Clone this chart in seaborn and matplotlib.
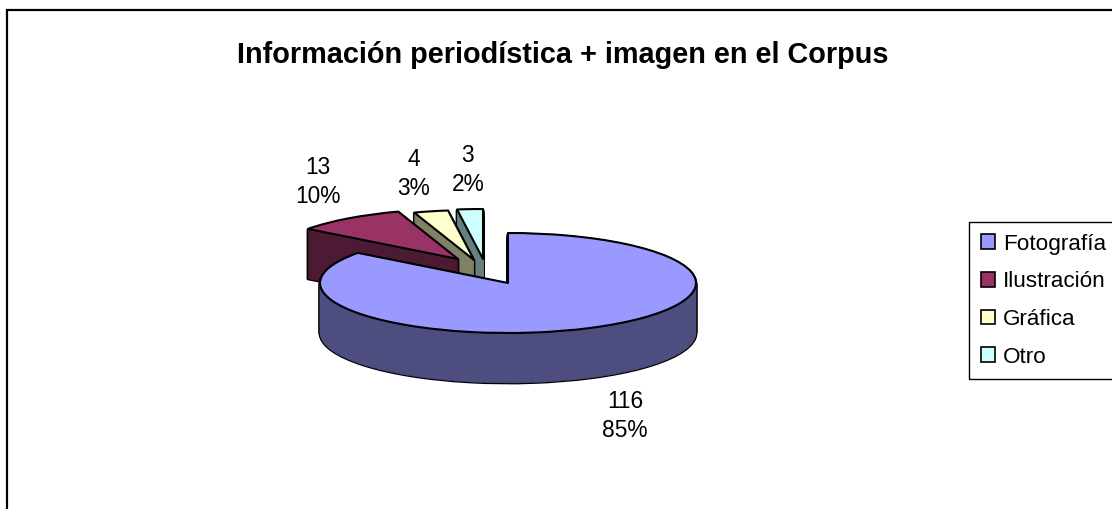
import matplotlib
matplotlib.use("Agg")
import matplotlib.pyplot as plt
from matplotlib.patches import Rectangle
import seaborn as sns

categories = ["Fotografía", "Ilustración", "Gráfica", "Otro"]
counts = [116, 13, 4, 3]
percents = [85, 10, 3, 2]
title = "Información periodística + imagen en el Corpus"

top_colors = sns.color_palette(["#9999FF", "#993366", "#FFFFCC", "#CCFFFF"])
side_colors = sns.color_palette(["#4D4D80", "#4D1A33", "#808066", "#668080"])

sns.set_theme(style="white")
plt.rcParams["font.family"] = ["Liberation Sans", "DejaVu Sans"]

W, H = 1112, 509
fig = plt.figure(figsize=(W / 100, H / 100), dpi=100, facecolor="white")
ax = fig.add_axes([0, 0, 1, 1])

# layout, in pixels of the picture
RX, RY, DEPTH = 188.0, 50.0, 50
pie_centres = [(508, 283), (458, 259), (474, 260), (483, 259)]
label_pos = [(625, 416), (318, 182), (414, 174), (468, 170)]
CX0, CY0 = pie_centres[0]


def to_data(px, py):
    return (px - CX0) / RX, (CY0 - py) / RY


def one_slice(idx, px, py, color, edge, lw, z):
    wedges, _ = ax.pie(counts, colors=[color] * len(counts), startangle=90,
                       counterclock=False, center=to_data(px, py), radius=1,
                       wedgeprops=dict(edgecolor=edge, linewidth=lw, joinstyle="round"))
    for j, w in enumerate(wedges):
        if j == idx:
            w.set_zorder(z)
        else:
            w.remove()
    return wedges[idx]


handles = []
for order, idx in enumerate([3, 2, 1, 0]):
    cx, cy = pie_centres[idx]
    base = 10 * (order + 1)
    for d in range(DEPTH, 0, -1):
        one_slice(idx, cx, cy + d, "black", "black", 2.0, base)
    for d in range(DEPTH, 0, -1):
        one_slice(idx, cx, cy + d, side_colors[idx], side_colors[idx], 0.3, base + 1)
    top = one_slice(idx, cx, cy, top_colors[idx], "black", 1.5, base + 2)
    handles.append((idx, top))

ax.set_aspect("auto")
ax.set_xlim(-CX0 / RX, (W - CX0) / RX)
ax.set_ylim((CY0 - H) / RY, CY0 / RY)
ax.axis("off")

fig.add_artist(Rectangle((7 / W, -0.1), 1.2, 1.1 - 10 / H, transform=fig.transFigure,
                         fill=False, edgecolor="black", linewidth=1.6))

fig.text(563 / W, 1 - 55 / H, title, ha="center", va="center",
         fontsize=20.8, fontweight="bold", color="black")

for (px, py), n, p in zip(label_pos, counts, percents):
    fig.text(px / W, 1 - py / H, f"{n}\n{p}%", ha="center", va="center",
             fontsize=16.4, color="black", linespacing=1.38)

handles = [h for _, h in sorted(handles, key=lambda t: t[0])]
leg = fig.legend(handles, categories, loc="upper left",
                 bbox_to_anchor=(969 / W, 1 - 222 / H), borderaxespad=0,
                 fontsize=16.2, frameon=True, fancybox=False, framealpha=1,
                 edgecolor="black", labelcolor="black",
                 handlelength=0.62, handleheight=0.62,
                 handletextpad=0.36, labelspacing=0.74, borderpad=0.52)
leg.get_frame().set_linewidth(1.0)
for h in leg.legend_handles:
    h.set_edgecolor("black")
    h.set_linewidth(1.2)

fig.savefig("out.png", dpi=100, facecolor="white")
